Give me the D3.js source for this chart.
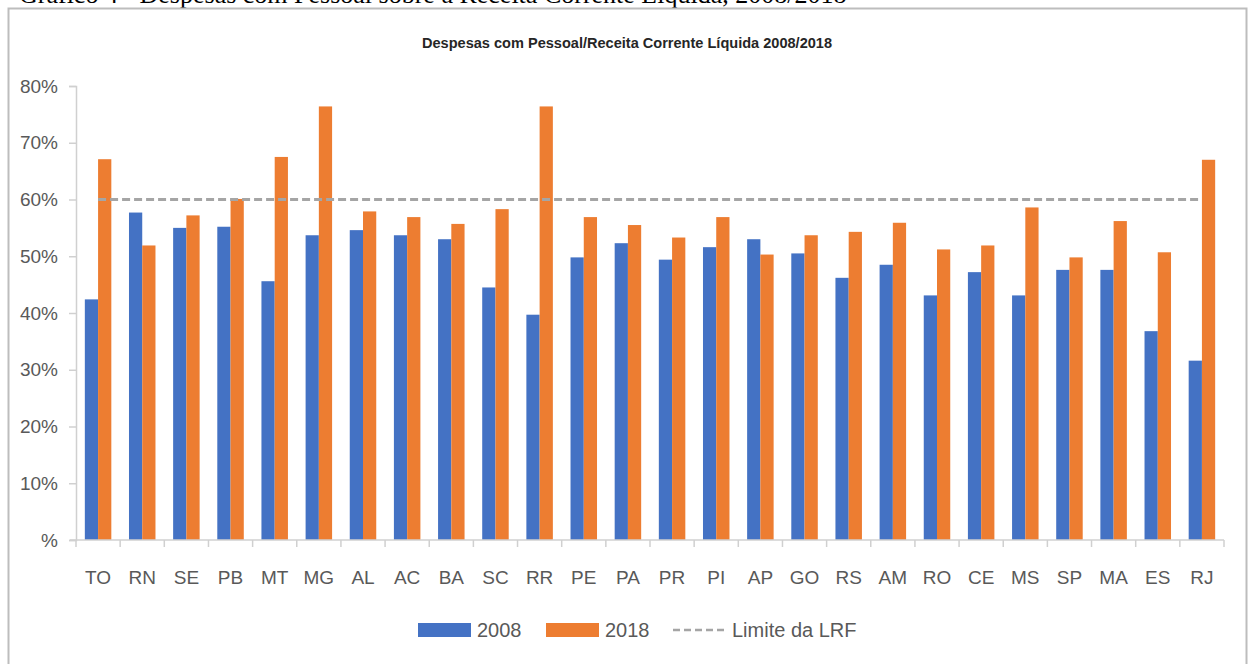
<!DOCTYPE html>
<html>
<head>
<meta charset="utf-8">
<script src="https://cdn.jsdelivr.net/npm/d3@7"></script>
<style>
  body { margin: 0; background: #fff; }
  svg { display: block; }
</style>
</head>
<body>
<div id="chart"></div>
<script>
// estados, na ordem do gráfico
const categories = ['TO', 'RN', 'SE', 'PB', 'MT', 'MG', 'AL', 'AC', 'BA', 'SC', 'RR', 'PE', 'PA',
    'PR', 'PI', 'AP', 'GO', 'RS', 'AM', 'RO', 'CE', 'MS', 'SP', 'MA', 'ES', 'RJ'];
const values2008 = [42.4, 57.7, 55.0, 55.2, 45.6, 53.7, 54.6, 53.7, 53.0, 44.5, 39.7, 49.8, 52.3,
    49.4, 51.6, 53.0, 50.5, 46.2, 48.5, 43.1, 47.2, 43.1, 47.6, 47.6, 36.8, 31.6];
const values2018 = [67.1, 51.9, 57.2, 60.1, 67.5, 76.4, 57.9, 56.9, 55.7, 58.3, 76.4, 56.9, 55.5,
    53.3, 56.9, 50.3, 53.7, 54.3, 55.9, 51.2, 51.9, 58.6, 49.8, 56.2, 50.7, 67.0];
const limiteLRF = 60;
const yTicks = [0, 10, 20, 30, 40, 50, 60, 70, 80];
const seriesNames = ['2008', '2018'];

const width = 1250;
const height = 664;
const colors = { '2008': '#4472C4', '2018': '#ED7D31', limite: '#A5A5A5' };
const labelFont = 'Liberation Sans Narrow, Arial Narrow, Liberation Sans, sans-serif';

const svg = d3.select('#chart').append('svg')
    .attr('width', width)
    .attr('height', height);

// legenda da página, cortada no topo como na imagem
svg.append('text')
    .attr('x', 19)
    .attr('y', 3)
    .attr('font-family', 'Liberation Serif, Times New Roman, serif')
    .attr('font-size', 26)
    .attr('fill', '#000')
    .text('Gráfico 4 - Despesas com Pessoal sobre a Receita Corrente Líquida, 2008/2018');

// moldura do gráfico
svg.append('rect')
    .attr('x', 8.5).attr('y', 8.5)
    .attr('width', 1238).attr('height', 700)
    .attr('fill', '#fff')
    .attr('stroke', '#bdbdbd')
    .attr('stroke-width', 2);

svg.append('text')
    .attr('x', 627)
    .attr('y', 48)
    .attr('text-anchor', 'middle')
    .attr('font-family', labelFont)
    .attr('font-weight', 'bold')
    .attr('font-size', 14)
    .attr('fill', '#262626')
    .attr('textLength', 410)
    .attr('lengthAdjust', 'spacingAndGlyphs')
    .text('Despesas com Pessoal/Receita Corrente Líquida 2008/2018');

let data = categories.map((c, i) => ({ name: c, '2008': values2008[i], '2018': values2018[i] }));

let x0 = d3.scaleBand()
    .domain(categories)
    .range([76, 1224])
    .paddingInner(0.4)
    .paddingOuter(0.2);

let x1 = d3.scaleBand()
    .domain(seriesNames)
    .range([0, x0.bandwidth()]);

let yScale = d3.scaleLinear()
    .domain([0, 80])
    .range([540, 86]);

// eixo y
let yAxis = svg.append('g').attr('class', 'y-axis')
    .attr('transform', 'translate(76, 0)')
    .call(d3.axisLeft(yScale).tickValues(yTicks).tickSize(7).tickPadding(11)
        .tickFormat(d => d === 0 ? '%' : d + '%'));
yAxis.select('.domain').attr('stroke', '#d0d0d0').attr('stroke-width', 1.5);
yAxis.selectAll('.tick line').attr('stroke', '#d0d0d0').attr('stroke-width', 1.5);
yAxis.selectAll('.tick text')
    .attr('font-family', labelFont)
    .attr('font-size', 19)
    .attr('fill', '#595959');

// barras
let groups = svg.selectAll('.grupo').data(data).enter().append('g')
    .attr('class', 'grupo')
    .attr('transform', d => 'translate(' + x0(d.name) + ',0)');

groups.selectAll('rect')
    .data(d => seriesNames.map(s => ({ key: s, value: d[s] })))
    .enter().append('rect')
    .attr('x', d => x1(d.key))
    .attr('y', d => yScale(d.value))
    .attr('width', x1.bandwidth())
    .attr('height', d => yScale(0) - yScale(d.value))
    .attr('fill', d => colors[d.key]);

// eixo x, ticks entre categorias
let step = x0.step();
let boundaries = d3.range(categories.length + 1).map(i => 76 + i * step);
let xAxis = svg.append('g').attr('class', 'x-axis');
xAxis.append('line')
    .attr('x1', 70).attr('x2', 1224)
    .attr('y1', yScale(0)).attr('y2', yScale(0))
    .attr('stroke', '#d0d0d0').attr('stroke-width', 1.5);
xAxis.selectAll('.xtick').data(boundaries).enter().append('line')
    .attr('x1', d => d).attr('x2', d => d)
    .attr('y1', yScale(0)).attr('y2', yScale(0) + 7)
    .attr('stroke', '#d0d0d0').attr('stroke-width', 1.5);
xAxis.selectAll('.xlabel').data(categories).enter().append('text')
    .attr('x', d => x0(d) + x0.bandwidth() / 2)
    .attr('y', 584)
    .attr('text-anchor', 'middle')
    .attr('font-family', labelFont)
    .attr('font-size', 19)
    .attr('fill', '#595959')
    .text(d => d);

// linha do limite da LRF
let first = categories[0], last = categories[categories.length - 1];
svg.append('line')
    .attr('x1', x0(first) + x0.bandwidth() / 2)
    .attr('x2', x0(last) + x0.bandwidth() / 2)
    .attr('y1', yScale(limiteLRF)).attr('y2', yScale(limiteLRF))
    .attr('stroke', colors.limite)
    .attr('stroke-width', 3)
    .attr('stroke-dasharray', '8,4');

// legenda
let legend = svg.append('g').attr('class', 'legend');
let legendItems = [
    { label: '2008', type: 'rect', color: colors['2008'], x: 418 },
    { label: '2018', type: 'rect', color: colors['2018'], x: 546 },
    { label: 'Limite da LRF', type: 'line', color: colors.limite, x: 673 }
];
legendItems.forEach(item => {
    if (item.type === 'rect') {
        legend.append('rect')
            .attr('x', item.x).attr('y', 623)
            .attr('width', 53).attr('height', 14)
            .attr('fill', item.color);
    } else {
        legend.append('line')
            .attr('x1', item.x).attr('x2', item.x + 53)
            .attr('y1', 630).attr('y2', 630)
            .attr('stroke', item.color)
            .attr('stroke-width', 2.5)
            .attr('stroke-dasharray', '7,4');
    }
    legend.append('text')
        .attr('x', item.x + 59)
        .attr('y', 637)
        .attr('font-family', labelFont)
        .attr('font-size', 20)
        .attr('fill', '#595959')
        .text(item.label);
});
</script>
</body>
</html>
